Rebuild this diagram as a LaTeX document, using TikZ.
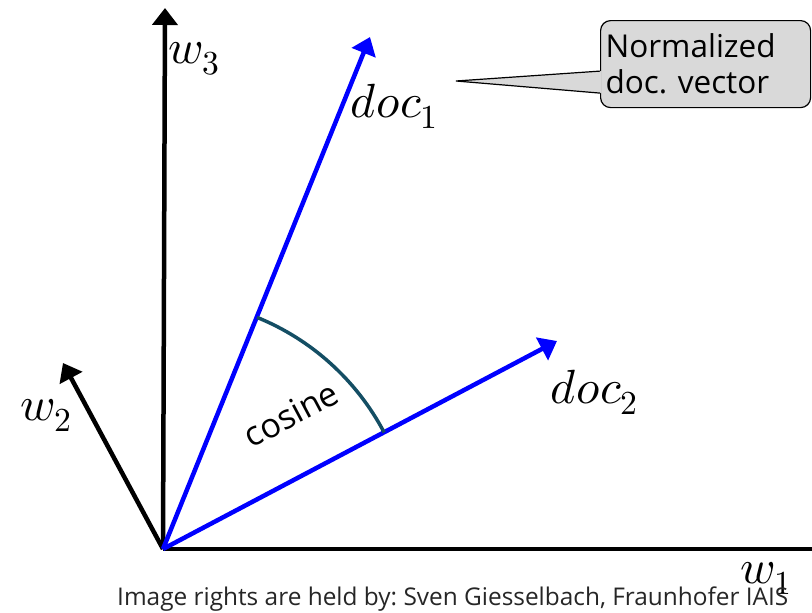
\documentclass[tikz,border=0pt]{standalone}
\usepackage{fontspec}
\usepackage{unicode-math}
\setmathfont{latinmodern-math.otf}
\setsansfont{Open Sans}
\usetikzlibrary{arrows.meta}
\definecolor{arcc}{RGB}{20,78,100}
\definecolor{callgray}{RGB}{217,217,217}
\frenchspacing
\begin{document}
\begin{tikzpicture}[x=1pt,y=-1pt,
  axis/.style={line width=4.5pt,-{Triangle[length=17pt,width=25pt]}},
  vec/.style={blue,line width=4.5pt,-{Triangle[length=17pt,width=25pt]}},
  lbl/.style={font=\fontsize{48}{52}\selectfont,anchor=base west,inner sep=0pt}]
\useasboundingbox (0,0) rectangle (812,613);
\coordinate (O) at (163,549);
\coordinate (w1end) at (812,549);
\coordinate (w3end) at (165,8);
\coordinate (w2end) at (63,363);
\coordinate (d1end) at (370,37);
\coordinate (d2end) at (557,341);
% axes
\draw[line width=4.5pt] (O) -- (w1end);
\draw[axis] (O) -- (w3end);
\draw[axis] (O) -- (w2end);
% doc vectors
\draw[vec] (O) -- (d1end);
\draw[vec] (O) -- (d2end);
% angle arc
\draw[arcc,line width=3.5pt] (O) ++(-67.9:250) arc[start angle=-67.9,end angle=-27.8,radius=250];
% labels
\node[lbl] (lw3) at (168,63) {$w_3$};
\node[lbl] (lw2) at (20,420) {$w_2$};
\node[lbl] (lw1) at (740,583) {$w_1$};
\node[lbl] (ld1) at (350,117) {$doc_1$};
\node[lbl] (ld2) at (550,403) {$doc_2$};
\node[font=\sffamily\fontsize{34}{40}\selectfont,rotate=28] (cos) at (291,414) {cosine};
% callout
\node[draw,fill=callgray,rounded corners=10pt,line width=1.2pt,text width=200pt,minimum height=87pt,
      anchor=north west,align=left,inner xsep=5pt,inner ysep=4pt,font=\sffamily\fontsize{31.5}{36}\selectfont] (box) at (600,20) {Normalized\\doc. vector};
\coordinate (tip) at (456,81);
\fill[callgray] ([xshift=1.5pt,yshift=-7pt]box.west) -- (tip) -- ([xshift=1.5pt,yshift=-29pt]box.west) -- cycle;
\draw[line width=1.2pt,line join=miter] ([yshift=-7pt]box.west) -- (tip) -- ([yshift=-29pt]box.west);
% credit
\node[font=\sffamily\fontsize{24.4}{28}\selectfont,anchor=base west,text=black!85,inner sep=0pt] (credit) at (117,605) {Image rights are held by: Sven Giesselbach, Fraunhofer IAIS};
\end{tikzpicture}
\end{document}
